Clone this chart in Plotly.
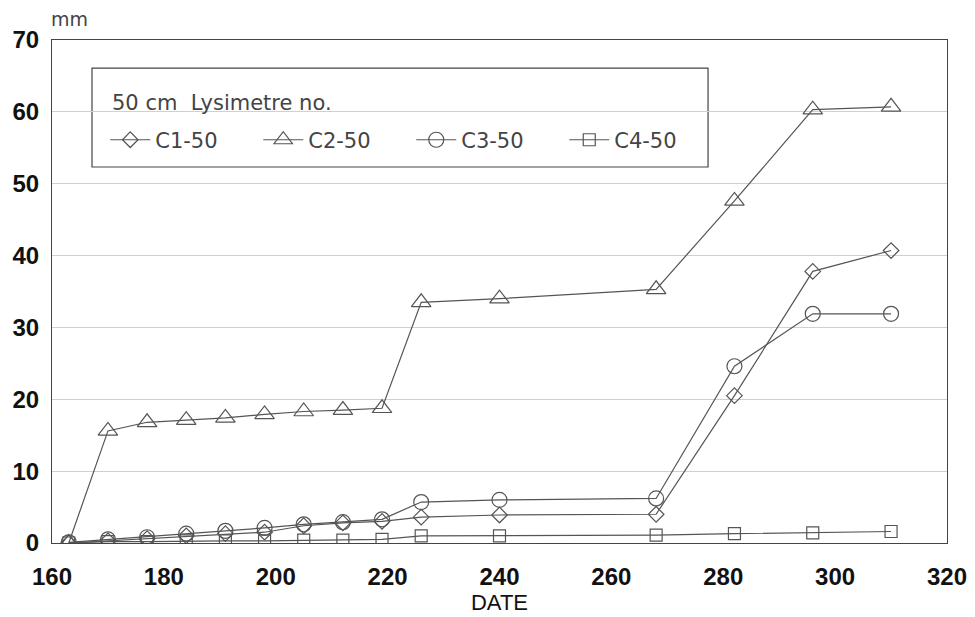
import plotly.graph_objects as go

days = [163, 170, 177, 184, 191, 198, 205, 212, 219, 226, 240, 268, 282, 296, 310]
c1_50 = [0.0, 0.3, 0.6, 1.0, 1.3, 1.5, 2.4, 2.8, 3.0, 3.6, 3.9, 4.0, 20.5, 37.8, 40.7]
c2_50 = [0.0, 15.6, 16.8, 17.1, 17.4, 17.9, 18.3, 18.5, 18.75, 33.5, 34.0, 35.3, 47.6, 60.3, 60.7]
c3_50 = [0.1, 0.5, 0.8, 1.3, 1.7, 2.1, 2.6, 2.9, 3.3, 5.7, 6.0, 6.2, 24.6, 31.9, 31.9]
c4_50 = [0.0, 0.2, 0.2, 0.3, 0.3, 0.3, 0.4, 0.4, 0.5, 1.0, 1.0, 1.1, 1.3, 1.4, 1.6]

series = [
    ("C1-50", c1_50, "diamond-open", 12),
    ("C2-50", c2_50, "triangle-up-open", 17),
    ("C3-50", c3_50, "circle-open", 15),
    ("C4-50", c4_50, "square-open", 12),
]

line_col = "#555555"
fig = go.Figure()
for name, vals, sym, sz in series:
    fig.add_trace(go.Scatter(
        x=days, y=vals, name=name, mode="lines+markers",
        line=dict(color=line_col, width=1.2),
        marker=dict(symbol=sym, size=sz, color=line_col, line=dict(width=1.2, color=line_col)),
    ))

tick_font = dict(family="Liberation Sans, Arial, sans-serif", size=24, color="#111111", weight="bold")
leg_font = dict(family="DejaVu Sans, sans-serif", size=21, color="#444444")

fig.update_layout(
    width=975, height=617,
    margin=dict(l=52, r=28, t=40, b=74),
    paper_bgcolor="white", plot_bgcolor="white",
    showlegend=True,
    legend=dict(
        orientation="h",
        x=0.0595, y=0.801, xanchor="left", yanchor="middle",
        borderwidth=0, bgcolor="rgba(0,0,0,0)",
        font=leg_font,
        entrywidth=98, entrywidthmode="pixels",
        itemwidth=40,
    ),
    xaxis=dict(
        range=[160, 320], dtick=20, tick0=160,
        showgrid=False, zeroline=False, automargin=False,
        showline=True, linecolor="#444444", linewidth=1.2, mirror=True,
        ticks="", tickfont=tick_font, ticklabelstandoff=12,
        title=dict(text="DATE", font=dict(family="Liberation Sans, Arial, sans-serif", size=22, color="#111111"), standoff=2),
    ),
    yaxis=dict(
        range=[0, 70], dtick=10, tick0=0,
        showgrid=True, gridcolor="#d0d0d0", gridwidth=1,
        zeroline=False, automargin=False,
        showline=True, linecolor="#444444", linewidth=1.2, mirror=True,
        ticks="", tickfont=tick_font, ticklabelstandoff=7,
    ),
    shapes=[dict(
        type="rect", xref="paper", yref="paper",
        x0=0.0447, x1=0.733, y0=0.7475, y1=0.944,
        line=dict(color="#444444", width=1.2), fillcolor="white", layer="below",
    )],
    annotations=[
        dict(text="mm", x=0, y=1, xref="paper", yref="paper",
             xanchor="left", yanchor="bottom", xshift=-3, yshift=8, showarrow=False,
             font=dict(family="DejaVu Sans, sans-serif", size=19, color="#444444")),
        dict(text="50 cm  Lysimetre no.", x=0.0447, y=0.944, xref="paper", yref="paper",
             xanchor="left", yanchor="middle", xshift=18, yshift=-35, showarrow=False,
             font=leg_font),
    ],
)

fig.write_html("out.html")
